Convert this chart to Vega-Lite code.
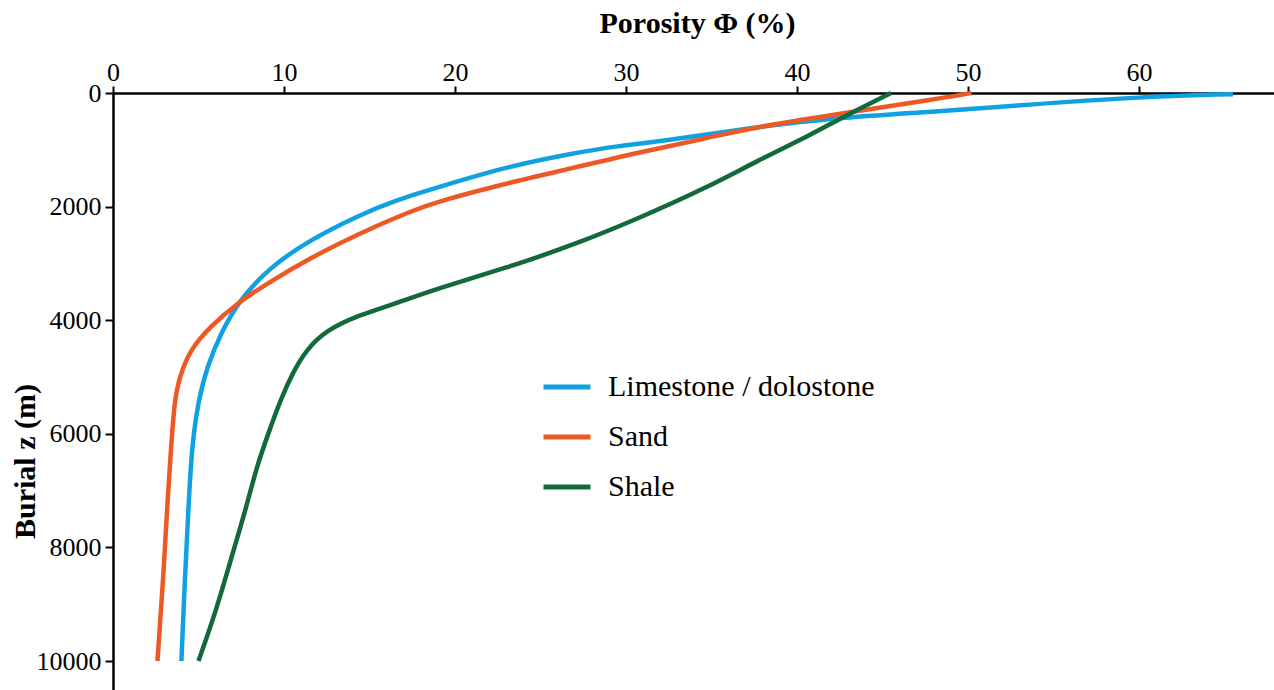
{
  "$schema": "https://vega.github.io/schema/vega-lite/v6.json",
  "width": 1161,
  "height": 597,
  "autosize": "none",
  "padding": {"left": 113, "top": 93, "right": 0, "bottom": 0},
  "background": "white",
  "config": {"view": {"stroke": null}, "font": "Liberation Serif"},
  "data": {"values": [
    {"lith": "Limestone / dolostone", "phi": 65.5, "z": 20},
    {"lith": "Limestone / dolostone", "phi": 60, "z": 70},
    {"lith": "Limestone / dolostone", "phi": 53, "z": 215},
    {"lith": "Limestone / dolostone", "phi": 48, "z": 330},
    {"lith": "Limestone / dolostone", "phi": 42.1, "z": 440},
    {"lith": "Limestone / dolostone", "phi": 37.3, "z": 615},
    {"lith": "Limestone / dolostone", "phi": 31.8, "z": 860},
    {"lith": "Limestone / dolostone", "phi": 29.6, "z": 930},
    {"lith": "Limestone / dolostone", "phi": 26.9, "z": 1060},
    {"lith": "Limestone / dolostone", "phi": 23.0, "z": 1300},
    {"lith": "Limestone / dolostone", "phi": 19.1, "z": 1650},
    {"lith": "Limestone / dolostone", "phi": 16.6, "z": 1880},
    {"lith": "Limestone / dolostone", "phi": 14.4, "z": 2150},
    {"lith": "Limestone / dolostone", "phi": 11.5, "z": 2590},
    {"lith": "Limestone / dolostone", "phi": 9.2, "z": 3060},
    {"lith": "Limestone / dolostone", "phi": 7.4, "z": 3640},
    {"lith": "Limestone / dolostone", "phi": 6.3, "z": 4230},
    {"lith": "Limestone / dolostone", "phi": 5.5, "z": 4820},
    {"lith": "Limestone / dolostone", "phi": 5.0, "z": 5400},
    {"lith": "Limestone / dolostone", "phi": 4.6, "z": 6230},
    {"lith": "Limestone / dolostone", "phi": 4.4, "z": 7390},
    {"lith": "Limestone / dolostone", "phi": 4.2, "z": 8570},
    {"lith": "Limestone / dolostone", "phi": 4.0, "z": 10000},
    {"lith": "Sand", "phi": 50.2, "z": 0},
    {"lith": "Sand", "phi": 48.4, "z": 95},
    {"lith": "Sand", "phi": 42.1, "z": 385},
    {"lith": "Sand", "phi": 37.3, "z": 615},
    {"lith": "Sand", "phi": 34.7, "z": 800},
    {"lith": "Sand", "phi": 30.8, "z": 1040},
    {"lith": "Sand", "phi": 26.9, "z": 1320},
    {"lith": "Sand", "phi": 23.0, "z": 1590},
    {"lith": "Sand", "phi": 19.1, "z": 1900},
    {"lith": "Sand", "phi": 17.5, "z": 2070},
    {"lith": "Sand", "phi": 14.4, "z": 2470},
    {"lith": "Sand", "phi": 11.5, "z": 2910},
    {"lith": "Sand", "phi": 9.2, "z": 3320},
    {"lith": "Sand", "phi": 7.25, "z": 3700},
    {"lith": "Sand", "phi": 5.7, "z": 4110},
    {"lith": "Sand", "phi": 4.5, "z": 4520},
    {"lith": "Sand", "phi": 3.9, "z": 4990},
    {"lith": "Sand", "phi": 3.6, "z": 5400},
    {"lith": "Sand", "phi": 3.4, "z": 6230},
    {"lith": "Sand", "phi": 3.2, "z": 7110},
    {"lith": "Sand", "phi": 3.0, "z": 8270},
    {"lith": "Sand", "phi": 2.6, "z": 10000},
    {"lith": "Shale", "phi": 45.5, "z": 0},
    {"lith": "Shale", "phi": 42.7, "z": 420},
    {"lith": "Shale", "phi": 40.8, "z": 740},
    {"lith": "Shale", "phi": 37.7, "z": 1190},
    {"lith": "Shale", "phi": 34.7, "z": 1670},
    {"lith": "Shale", "phi": 30.8, "z": 2200},
    {"lith": "Shale", "phi": 26.9, "z": 2680},
    {"lith": "Shale", "phi": 23.0, "z": 3080},
    {"lith": "Shale", "phi": 19.1, "z": 3430},
    {"lith": "Shale", "phi": 16.2, "z": 3740},
    {"lith": "Shale", "phi": 14.4, "z": 3910},
    {"lith": "Shale", "phi": 12.5, "z": 4170},
    {"lith": "Shale", "phi": 11.3, "z": 4520},
    {"lith": "Shale", "phi": 10.5, "z": 4930},
    {"lith": "Shale", "phi": 9.8, "z": 5400},
    {"lith": "Shale", "phi": 9.1, "z": 5980},
    {"lith": "Shale", "phi": 8.4, "z": 6580},
    {"lith": "Shale", "phi": 7.8, "z": 7290},
    {"lith": "Shale", "phi": 7.0, "z": 8100},
    {"lith": "Shale", "phi": 6.1, "z": 9050},
    {"lith": "Shale", "phi": 5.0, "z": 10000}
  ]},
  "mark": {"type": "line", "strokeWidth": 4.5, "interpolate": "basis", "clip": false},
  "encoding": {
    "order": {"field": "z", "type": "quantitative"},
    "x": {
      "field": "phi", "type": "quantitative",
      "scale": {"domain": [0, 67.9], "nice": false, "zero": false},
      "axis": {
        "orient": "top", "values": [0, 10, 20, 30, 40, 50, 60], "grid": false, "labelFlush": false, "format": "d",
        "domainColor": "black", "domainWidth": 2.5, "tickColor": "black", "tickWidth": 2, "tickSize": 7,
        "labelFont": "Liberation Serif", "labelFontSize": 26, "labelColor": "black", "labelPadding": 1,
        "title": "Porosity Φ (%)", "titleFont": "Liberation Serif", "titleFontSize": 30, "titleFontWeight": "bold", "titleColor": "black",
        "titleX": 584, "titleY": -70, "titleBaseline": "middle", "titleAlign": "center"
      }
    },
    "y": {
      "field": "z", "type": "quantitative",
      "scale": {"domain": [0, 10510], "reverse": true, "nice": false, "zero": false},
      "axis": {
        "orient": "left", "values": [0, 2000, 4000, 6000, 8000, 10000], "grid": false, "labelFlush": false, "format": "d",
        "domainColor": "black", "domainWidth": 2.5, "tickColor": "black", "tickWidth": 2, "tickSize": 8,
        "labelFont": "Liberation Serif", "labelFontSize": 26, "labelColor": "black", "labelPadding": 4,
        "title": "Burial z (m)", "titleFont": "Liberation Serif", "titleFontSize": 30, "titleFontWeight": "bold", "titleColor": "black",
        "titleX": -88, "titleY": 368, "titleBaseline": "middle", "titleAlign": "center", "titleAngle": -90
      }
    },
    "color": {
      "field": "lith", "type": "nominal",
      "scale": {"domain": ["Limestone / dolostone", "Sand", "Shale"], "range": ["#0fa1e2", "#ee5824", "#12693a"]},
      "legend": {
        "orient": "none", "legendX": 428, "legendY": 268, "title": null,
        "symbolType": "stroke", "symbolSize": 2209, "symbolStrokeWidth": 5,
        "labelFont": "Liberation Serif", "labelFontSize": 30, "labelColor": "black", "labelOffset": 15,
        "rowPadding": 9, "labelLimit": 500
      }
    }
  }
}
